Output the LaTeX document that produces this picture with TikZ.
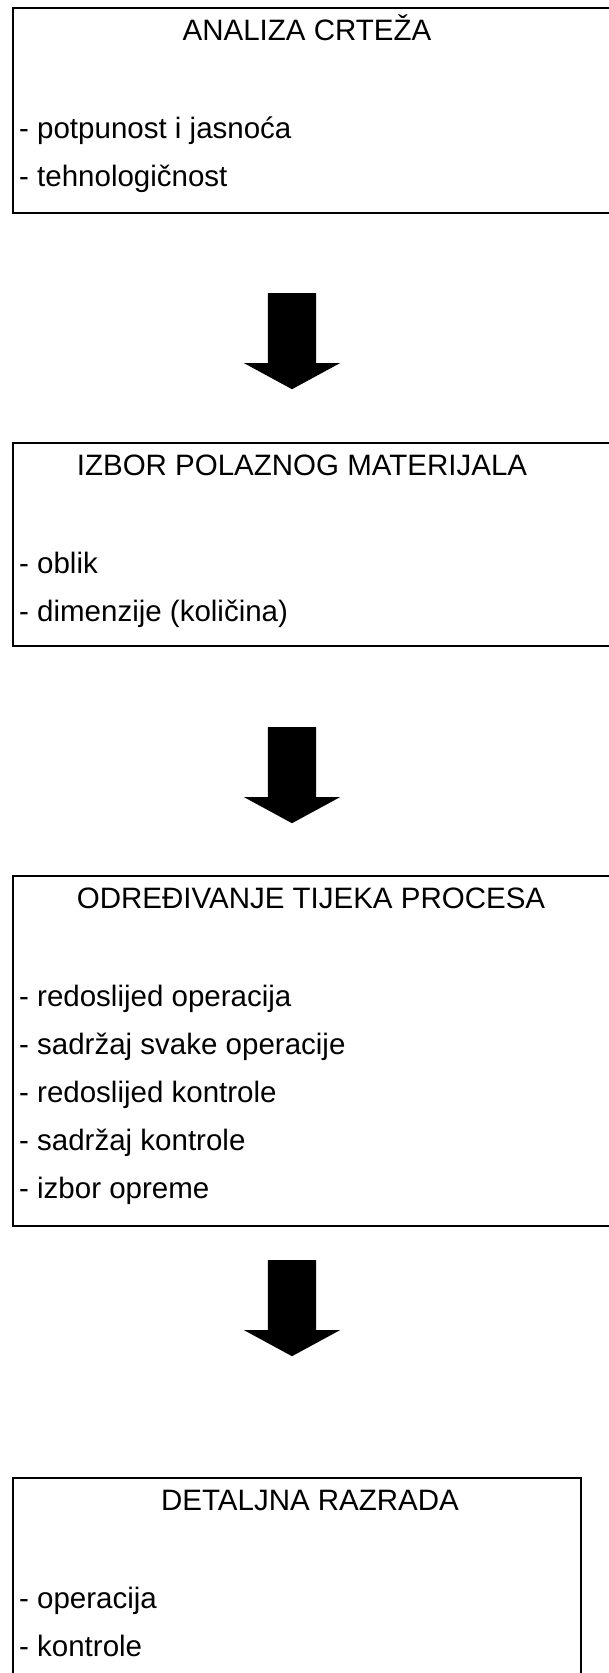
\documentclass[tikz,border=0pt]{standalone}
\usepackage{fontspec}
\setmainfont{Liberation Sans}
\usetikzlibrary{positioning,shapes.arrows}
\tikzstyle{boxy} = [rectangle, draw=black, line width=2pt, inner sep=0pt,
anchor=north west]
\tikzstyle{naslov} = [inner sep=0pt, anchor=base, font=\fontsize{29.5}{35}\selectfont]
\tikzstyle{stavka} = [inner sep=0pt, font=\fontsize{29.5}{35}\selectfont]
\tikzstyle{strelica} = [single arrow, fill=black, draw=none, shape border rotate=270,
inner sep=24pt, minimum height=96pt, minimum width=96pt,
single arrow head extend=24pt, single arrow tip angle=123, anchor=tail]

\begin{document}
\begin{tikzpicture}[x=1pt,y=-1pt]
        \useasboundingbox (0,0) rectangle (608,1673);
        \node (b1) [boxy,minimum width=620pt,minimum height=205pt] at (12,7) {};
        \node (b2) [boxy,minimum width=620pt,minimum height=203pt] at (12,442) {};
        \node (b3) [boxy,minimum width=620pt,minimum height=350pt] at (12,875) {};
        \node (b4) [boxy,minimum width=568pt,minimum height=230pt] at (12,1477) {};
        %
        \node (b1n) [naslov] at (307,40) {ANALIZA CRTEŽA};
        \node (b1s1) [stavka,below right=131pt and 7pt of b1.north west,anchor=base west] {- potpunost i jasnoća};
        \node (b1s2) [stavka,below=48pt of b1s1.base west,anchor=base west] {- tehnologičnost};
        %
        \node (b2n) [naslov] at (302,475) {IZBOR POLAZNOG MATERIJALA};
        \node (b2s1) [stavka,below right=131pt and 7pt of b2.north west,anchor=base west] {- oblik};
        \node (b2s2) [stavka,below=48pt of b2s1.base west,anchor=base west] {- dimenzije (količina)};
        %
        \node (b3n) [naslov] at (311,908) {ODREĐIVANJE TIJEKA PROCESA};
        \node (b3s1) [stavka,below right=131pt and 7pt of b3.north west,anchor=base west] {- redoslijed operacija};
        \node (b3s2) [stavka,below=48pt of b3s1.base west,anchor=base west] {- sadržaj svake operacije};
        \node (b3s3) [stavka,below=48pt of b3s2.base west,anchor=base west] {- redoslijed kontrole};
        \node (b3s4) [stavka,below=48pt of b3s3.base west,anchor=base west] {- sadržaj kontrole};
        \node (b3s5) [stavka,below=48pt of b3s4.base west,anchor=base west] {- izbor opreme};
        %
        \node (b4n) [naslov] at (310,1510) {DETALJNA RAZRADA};
        \node (b4s1) [stavka,below right=131pt and 7pt of b4.north west,anchor=base west] {- operacija};
        \node (b4s2) [stavka,below=48pt of b4s1.base west,anchor=base west] {- kontrole};
        %
        \node (s1) [strelica] at (292,293) {};
        \node (s2) [strelica] at (292,727) {};
        \node (s3) [strelica] at (292,1260) {};
    \end{tikzpicture}
\end{document}
